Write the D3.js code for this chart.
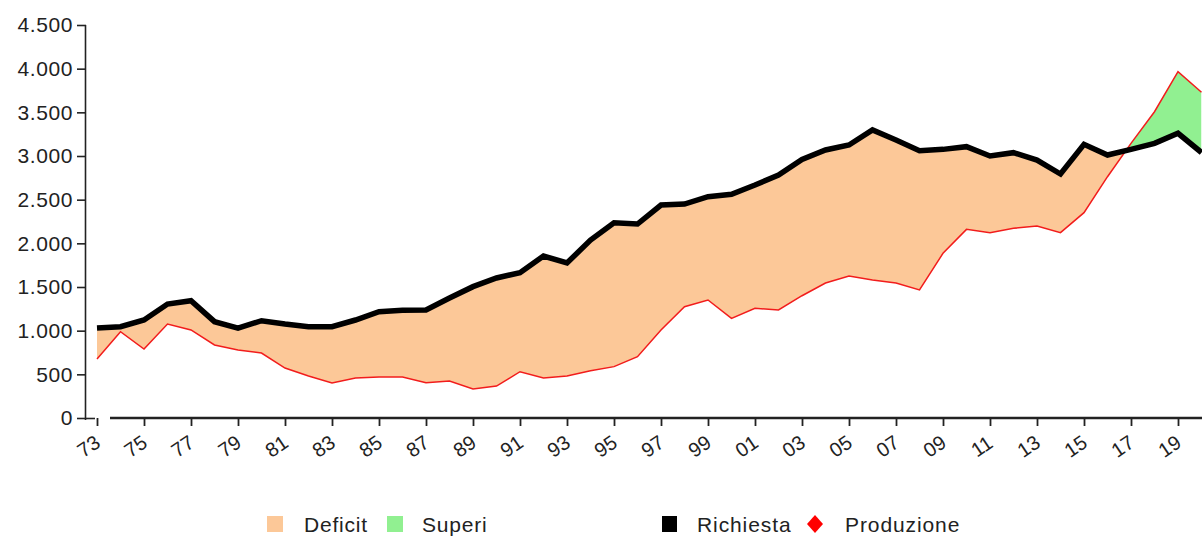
<!DOCTYPE html>
<html><head><meta charset="utf-8">
<script src="https://cdn.jsdelivr.net/npm/d3@7"></script>
<style>
body{margin:0;background:#fff}
svg{display:block}
text{font-family:"Liberation Sans",Arial,sans-serif;fill:#222}
</style>
</head><body>
<svg id="c" width="1202" height="536"></svg>
<script>
const years = [1973,1974,1975,1976,1977,1978,1979,1980,1981,1982,1983,1984,1985,1986,1987,1988,1989,1990,1991,1992,1993,1994,1995,1996,1997,1998,1999,2000,2001,2002,2003,2004,2005,2006,2007,2008,2009,2010,2011,2012,2013,2014,2015,2016,2017,2018,2019,2020];
const richiesta = [1030,1045,1122,1305,1343,1103,1030,1114,1076,1046,1046,1122,1217,1233,1237,1374,1504,1603,1664,1855,1775,2038,2236,2221,2439,2450,2534,2561,2668,2782,2960,3069,3126,3298,3183,3061,3076,3107,3000,3038,2954,2794,3134,3011,3076,3145,3260,3040];
const produzione = [675,988,790,1076,1008,836,778,744,572,481,400,458,470,470,404,424,332,366,530,458,481,542,588,702,1008,1274,1351,1141,1256,1237,1400,1546,1626,1580,1546,1466,1886,2160,2122,2172,2198,2122,2351,2763,3145,3507,3965,3730];
const yTicks = [0,500,1000,1500,2000,2500,3000,3500,4000,4500];
const xTicks = [1973,1975,1977,1979,1981,1983,1985,1987,1989,1991,1993,1995,1997,1999,2001,2003,2005,2007,2009,2011,2013,2015,2017,2019];
const legendA = ["Deficit","Superi"];
const legendB = ["Richiesta","Produzione"];

const colDef = "#fcc898", colSup = "#91f091";

const svg = d3.select("#c");
const x = d3.scaleLinear().domain([1973,2020]).range([97,1201.5]);
const y = d3.scaleLinear().domain([0,4500]).range([418,25]);
const data = years.map((yr,i)=>({yr, r:richiesta[i], p:produzione[i]}));

const defs = svg.append("defs");
defs.append("clipPath").attr("id","abovePro").append("path")
  .attr("d", d3.area().x(d=>x(d.yr)).y0(0).y1(d=>y(d.p))(data));
defs.append("clipPath").attr("id","belowPro").append("path")
  .attr("d", d3.area().x(d=>x(d.yr)).y0(536).y1(d=>y(d.p))(data));

const between = d3.area().x(d=>x(d.yr)).y0(d=>y(d.p)).y1(d=>y(d.r));
svg.append("path").attr("d",between(data)).attr("fill",colDef).attr("clip-path","url(#abovePro)");
svg.append("path").attr("d",between(data)).attr("fill",colSup).attr("clip-path","url(#belowPro)");

const lineP = d3.line().x(d=>x(d.yr)).y(d=>y(d.p));
const lineR = d3.line().x(d=>x(d.yr)).y(d=>y(d.r));
svg.append("path").attr("d",lineP(data)).attr("fill","none").attr("stroke","#f21c1c").attr("stroke-width",1.5);
svg.append("path").attr("d",lineR(data)).attr("fill","none").attr("stroke","#000").attr("stroke-width",5.5).attr("stroke-linejoin","miter");

// Y axis
const loc = d3.formatLocale({decimal:",", thousands:".", grouping:[3], currency:["","€"]});
const fmt = loc.format(",.0f");
const yAxis = d3.axisLeft(y).tickValues(yTicks).tickFormat(fmt).tickSize(9).tickPadding(4);
const gy = svg.append("g").attr("transform","translate(86,0)").call(yAxis);
gy.select(".domain").attr("d","M-0.5,25V420").attr("stroke","#222").attr("stroke-width",1.6);
gy.selectAll(".tick line").attr("stroke","#222").attr("stroke-width",1.6);
gy.selectAll(".tick").filter(d=>d===0).select("line").attr("x1",9);
gy.selectAll("text").attr("font-size",21).attr("letter-spacing",0.6).attr("fill","#222")
  .attr("font-family","Liberation Sans, Arial, sans-serif");

// X axis
const xAxis = d3.axisBottom(x).tickValues(xTicks).tickFormat(d=>String(d).slice(2)).tickSize(8);
const gx = svg.append("g").attr("transform","translate(0,418)").call(xAxis);
gx.select(".domain").attr("d","M110,0H1202").attr("stroke","#222").attr("stroke-width",2.6);
gx.selectAll(".tick line").attr("stroke","#222").attr("stroke-width",1.8);
gx.selectAll("text").attr("font-size",20).attr("fill","#222")
  .attr("font-family","Liberation Sans, Arial, sans-serif")
  .attr("text-anchor","middle").attr("dy",0)
  .attr("transform","translate(-5,34) rotate(-34)").attr("y",0);

// Legend
const lg = svg.append("g").attr("font-size",21);
const swA = [colDef,colSup];
const ax = [267,387], tx = [304,422];
legendA.forEach((t,i)=>{
  lg.append("rect").attr("x",ax[i]).attr("y",516).attr("width",16).attr("height",16).attr("fill",swA[i]);
  lg.append("text").attr("x",tx[i]).attr("y",532).attr("letter-spacing",0.8).text(t);
});
lg.append("rect").attr("x",662).attr("y",516).attr("width",15).attr("height",16).attr("fill","#000");
lg.append("text").attr("x",697).attr("y",532).attr("letter-spacing",0.9).text(legendB[0]);
lg.append("path").attr("d","M815,515L823,524L815,533L807,524Z").attr("fill","#f00");
lg.append("text").attr("x",845).attr("y",532).attr("letter-spacing",0.9).text(legendB[1]);
</script>
</body></html>
